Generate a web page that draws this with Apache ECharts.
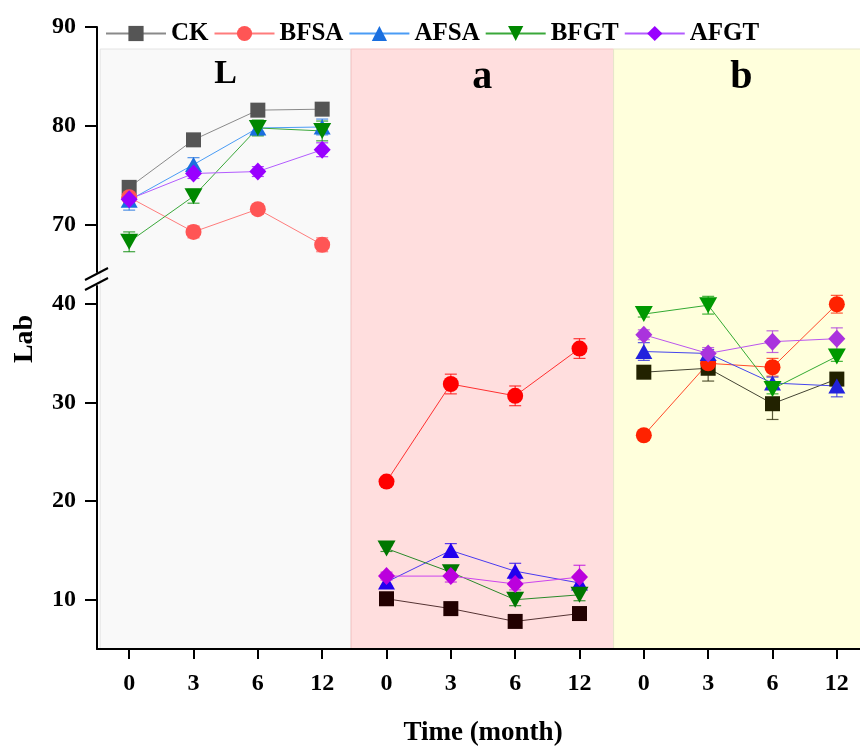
<!DOCTYPE html>
<html>
<head>
<meta charset="utf-8">
<script src="https://cdn.jsdelivr.net/npm/echarts@6/dist/echarts.min.js"></script>
<style>
html, body { margin: 0; padding: 0; background: #fff; }
#main { width: 860px; height: 747px; }
</style>
</head>
<body>
<div id="main"></div>
<script>
// 数据
var months = ['0', '3', '6', '12'];
var groups = ['CK', 'BFSA', 'AFSA', 'BFGT', 'AFGT'];
var panels = ['L', 'a', 'b'];

// 每行顺序同 groups
var L_mean = [
    [73.8, 78.6, 81.6, 81.7],
    [72.8, 69.3, 71.6, 68.0],
    [72.5, 76.1, 79.8, 79.9],
    [68.3, 72.9, 79.8, 79.5],
    [72.6, 75.2, 75.4, 77.6]
];
var L_err = [
    [0.3, 0.3, 0.4, 0.3],
    [0.4, 0.6, 0.5, 0.7],
    [1.0, 0.7, 0.7, 0.8],
    [1.0, 0.7, 0.8, 1.0],
    [0.4, 0.5, 0.5, 0.7]
];
var a_mean = [
    [10.1, 9.1, 7.8, 8.6],
    [22.0, 31.9, 30.7, 35.5],
    [11.8, 15.0, 12.9, 11.7],
    [15.2, 12.8, 10.0, 10.5],
    [12.4, 12.4, 11.6, 12.3]
];
var a_err = [
    [0.3, 0.3, 0.3, 0.3],
    [0.3, 1.0, 1.0, 1.0],
    [0.4, 0.7, 0.8, 0.5],
    [0.3, 0.5, 0.6, 0.6],
    [0.4, 0.6, 0.6, 1.2]
];
var b_mean = [
    [33.1, 33.5, 29.9, 32.4],
    [26.7, 34.0, 33.6, 40.0],
    [35.2, 35.0, 32.0, 31.7],
    [39.0, 39.9, 31.4, 34.7],
    [36.9, 35.0, 36.2, 36.5]
];
var b_err = [
    [0.3, 1.3, 1.6, 0.5],
    [0.5, 0.5, 0.9, 0.9],
    [0.9, 0.4, 0.6, 1.1],
    [0.3, 0.9, 0.5, 0.5],
    [0.5, 0.6, 1.1, 1.1]
];
var upperTicks = [70, 80, 90];
var lowerTicks = [10, 20, 30, 40];
var xLabels = months.concat(months, months);

// 样式
var FONT = '"Liberation Serif", "Times New Roman", serif';
var markerColors = [
    ['#555555', '#ff5555', '#1a6fdf', '#008800', '#9900ff'],
    ['#220000', '#ff0000', '#2200ee', '#007700', '#bb00dd'],
    ['#222200', '#ff2200', '#2222dd', '#009900', '#aa33dd']
];
var lineColors = [
    ['#8a8a8a', '#ff7c7c', '#4a9cf5', '#3aa83a', '#b35cff'],
    ['#553333', '#ff3030', '#4a3af0', '#2a8a2a', '#cc44ee'],
    ['#444433', '#ff4a2a', '#4545ee', '#33aa33', '#bb55ee']
];
var symbols = ['rect', 'circle', 'triangle', 'path://M0,0L10,0L5,9Z', 'diamond'];
var symbolSizes = [15, 16, [17, 15], [18, 16], [17, 18]];
var panelBounds = [[0.05, 3.95], [3.95, 8.03], [8.03, 12.2]];
var panelFill = ['#f9f9f9', '#ffdede', '#ffffdc'];
var panelBorder = ['#e4e4e4', '#f5c4c4', '#e6e6cc'];
var panelFont = [34, 40, 40];

var means = [L_mean, a_mean, b_mean];
var errs = [L_err, a_err, b_err];

var myChart = echarts.init(document.getElementById('main'));

function errSeries(gridIdx, off, mean, err, color) {
    var data = mean.map(function (m, i) { return [off + i, m - err[i], m + err[i]]; });
    return {
        type: 'custom',
        xAxisIndex: gridIdx,
        yAxisIndex: gridIdx,
        data: data,
        z: 2,
        silent: true,
        renderItem: function (params, api) {
            var x = api.value(0);
            var lo = api.coord([x, api.value(1)]);
            var hi = api.coord([x, api.value(2)]);
            var hw = 6;
            var st = { stroke: color, lineWidth: 1.2, opacity: 0.75 };
            return {
                type: 'group',
                children: [
                    { type: 'line', shape: { x1: lo[0], y1: lo[1], x2: hi[0], y2: hi[1] }, style: st },
                    { type: 'line', shape: { x1: lo[0] - hw, y1: lo[1], x2: lo[0] + hw, y2: lo[1] }, style: st },
                    { type: 'line', shape: { x1: hi[0] - hw, y1: hi[1], x2: hi[0] + hw, y2: hi[1] }, style: st }
                ]
            };
        }
    };
}

var series = [];
// 背景色块
series.push({
    type: 'line',
    xAxisIndex: 2,
    yAxisIndex: 2,
    data: [],
    z: 0,
    silent: true,
    markArea: {
        silent: true,
        data: panelBounds.map(function (b, i) {
            return [{
                xAxis: b[0], yAxis: 0,
                itemStyle: { color: panelFill[i], borderColor: panelBorder[i], borderWidth: 1 },
                label: {
                    show: true, position: 'insideTop', distance: 9,
                    formatter: panels[i], color: '#000',
                    fontFamily: FONT, fontWeight: 'bold', fontSize: panelFont[i]
                }
            }, { xAxis: b[1], yAxis: 1 }];
        })
    }
});

panels.forEach(function (p, pi) {
    var gridIdx = pi === 0 ? 0 : 1;
    var off = pi * 4;
    groups.forEach(function (g, gi) {
        series.push(errSeries(gridIdx, off, means[pi][gi], errs[pi][gi], markerColors[pi][gi]));
    });
    groups.forEach(function (g, gi) {
        series.push({
            name: pi === 0 ? g : g + '_' + p,
            type: 'line',
            xAxisIndex: gridIdx,
            yAxisIndex: gridIdx,
            data: means[pi][gi].map(function (m, i) { return [off + i, m]; }),
            symbol: symbols[gi],
            symbolSize: symbolSizes[gi],
            itemStyle: { color: markerColors[pi][gi] },
            lineStyle: { color: lineColors[pi][gi], width: 1 },
            z: 3,
            animation: false
        });
    });
});

var axisLineStyle = { color: '#000', width: 2 };
var tickLabel = { color: '#000', fontFamily: FONT, fontWeight: 'bold', fontSize: 24, margin: 21 };

option = {
    animation: false,
    legend: {
        data: groups,
        top: 16,
        left: 100,
        itemWidth: 60,
        itemHeight: 19,
        itemGap: 5,
        textStyle: { color: '#000', fontFamily: FONT, fontWeight: 'bold', fontSize: 25 }
    },
    grid: [
        { left: 97, width: 772, top: 27, height: 245, outerBoundsMode: 'none' },
        { left: 97, width: 772, top: 286, height: 363, outerBoundsMode: 'none' },
        { left: 97, width: 772, top: 49, height: 600, outerBoundsMode: 'none' }
    ],
    xAxis: [
        { type: 'category', gridIndex: 0, data: xLabels, show: false },
        {
            type: 'category', gridIndex: 1, data: xLabels, z: 5,
            axisLine: { show: true, lineStyle: axisLineStyle },
            axisTick: { show: true, alignWithLabel: true, interval: 0, length: 10, lineStyle: { color: '#000', width: 2 } },
            axisLabel: {
                color: '#000', fontFamily: FONT, fontWeight: 'bold', fontSize: 24, margin: 23, interval: 0,
                formatter: function (v, i) { return xLabels[i]; }
            },
            splitLine: { show: false },
            name: 'Time (month)',
            nameLocation: 'middle',
            nameGap: 71,
            nameTextStyle: { color: '#000', fontFamily: FONT, fontWeight: 'bold', fontSize: 27 }
        },
        { type: 'value', gridIndex: 2, min: 0, max: 12, show: false }
    ],
    yAxis: [
        {
            type: 'value', gridIndex: 0, min: 65.25, max: 90, z: 5,
            axisLine: { show: true, lineStyle: axisLineStyle },
            axisTick: { show: true, length: 12, lineStyle: axisLineStyle, customValues: upperTicks },
            axisLabel: Object.assign({ customValues: upperTicks }, tickLabel),
            splitLine: { show: false }
        },
        {
            type: 'value', gridIndex: 1, min: 5, max: 41.85, z: 5,
            axisLine: { show: true, lineStyle: axisLineStyle },
            axisTick: { show: true, length: 12, lineStyle: axisLineStyle, customValues: lowerTicks },
            axisLabel: Object.assign({ customValues: lowerTicks }, tickLabel),
            splitLine: { show: false }
        },
        { type: 'value', gridIndex: 2, min: 0, max: 1, show: false }
    ],
    graphic: [
        {
            type: 'text', x: 25, y: 339, rotation: Math.PI / 2,
            style: { text: 'Lab', fill: '#000', font: 'bold 28px ' + FONT, align: 'center', verticalAlign: 'middle' }
        },
        { type: 'line', shape: { x1: 85, y1: 280, x2: 108, y2: 268 }, style: { stroke: '#000', lineWidth: 2 }, z: 10 },
        { type: 'line', shape: { x1: 85, y1: 290, x2: 108, y2: 278 }, style: { stroke: '#000', lineWidth: 2 }, z: 10 }
    ],
    series: series
};
myChart.setOption(option);
</script>
</body>
</html>
